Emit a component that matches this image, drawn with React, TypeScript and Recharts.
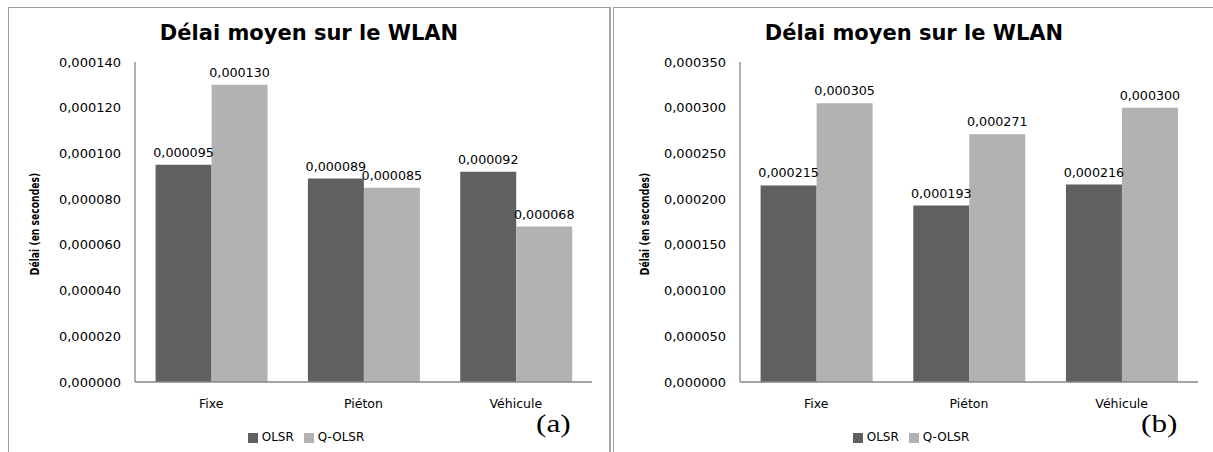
import React from 'react';
import { BarChart, Bar, XAxis, YAxis, Legend, LabelList } from 'recharts';

const categories = ['Fixe', 'Piéton', 'Véhicule'];
const olsrA = [0.000095, 0.000089, 0.000092];
const qolsrA = [0.00013, 0.000085, 0.000068];
const olsrB = [0.000215, 0.000193, 0.000216];
const qolsrB = [0.000305, 0.000271, 0.0003];
const yTicksA = [0, 0.00002, 0.00004, 0.00006, 0.00008, 0.0001, 0.00012, 0.00014];
const yTicksB = [0, 0.00005, 0.0001, 0.00015, 0.0002, 0.00025, 0.0003, 0.00035];
const seriesNames = ['OLSR', 'Q-OLSR'];
const title = 'Délai moyen sur le WLAN';
const yLabel = 'Délai (en secondes)';

const DARK = '#606060';
const LIGHT = '#b2b2b2';
const AXIS = '#868686';
const FONT = "'DejaVu Sans', sans-serif";

const fmt = (v: number) => Number(v).toFixed(6).replace('.', ',');

type PanelProps = {
  left: number;
  olsr: number[];
  qolsr: number[];
  ticks: number[];
  letter: string;
  labelX: number;
  rightMargin: number;
};

function Panel({ left, olsr, qolsr, ticks, letter, labelX, rightMargin }: PanelProps) {
  const rows = categories.map((c, i) => ({ cat: c, olsr: olsr[i], qolsr: qolsr[i] }));
  return (
    <div style={{ position: 'absolute', left, top: 7, width: 600, height: 445 }}>
      <div
        style={{
          position: 'absolute',
          left: 0,
          top: 15.5,
          width: 602,
          textAlign: 'center',
          fontFamily: FONT,
          fontWeight: 'bold',
          fontSize: 21,
          lineHeight: '21px',
          color: '#000',
          whiteSpace: 'nowrap',
        }}
      >
        {title}
      </div>
      <div
        style={{
          position: 'absolute',
          left: labelX,
          top: 217,
          transform: 'translate(-50%, -50%) rotate(-90deg) scaleX(0.8)',
          fontFamily: FONT,
          fontWeight: 'bold',
          fontSize: 11.5,
          lineHeight: '12px',
          whiteSpace: 'nowrap',
          color: '#000',
        }}
      >
        {yLabel}
      </div>
      <BarChart
        width={600}
        height={445}
        data={rows}
        margin={{ top: 55, right: rightMargin, left: 0, bottom: 0 }}
        barCategoryGap="13.5%"
        barGap={0}
      >
        <XAxis
          dataKey="cat"
          height={50}
          interval={0}
          tickLine={false}
          tickSize={6}
          tickMargin={11}
          axisLine={{ stroke: AXIS, strokeWidth: 1.3 }}
          tick={{ fontSize: 12.5, fill: '#000', fontFamily: FONT }}
        />
        <YAxis
          width={127}
          domain={[0, ticks[ticks.length - 1]]}
          ticks={ticks}
          interval={0}
          tickFormatter={fmt}
          tickLine={false}
          tickSize={6}
          tickMargin={8}
          axisLine={{ stroke: AXIS, strokeWidth: 1.3 }}
          tick={{ fontSize: 13, fill: '#000', fontFamily: FONT }}
        />
        <Legend
          iconType="square"
          iconSize={10}
          wrapperStyle={{
            top: 420,
            bottom: 'auto',
            left: 0,
            width: 606,
            height: 20,
            lineHeight: '20px',
            fontSize: 12,
            fontFamily: FONT,
          }}
          formatter={(value: string) => <span style={{ color: '#000' }}>{value}</span>}
        />
        <Bar dataKey="olsr" name={seriesNames[0]} fill={DARK} isAnimationActive={false}>
          <LabelList
            dataKey="olsr"
            position="top"
            offset={8}
            formatter={(v: any) => fmt(v)}
            style={{ fontSize: 12.7, fill: '#000', fontFamily: FONT }}
          />
        </Bar>
        <Bar dataKey="qolsr" name={seriesNames[1]} fill={LIGHT} isAnimationActive={false}>
          <LabelList
            dataKey="qolsr"
            position="top"
            offset={8}
            formatter={(v: any) => fmt(v)}
            style={{ fontSize: 12.7, fill: '#000', fontFamily: FONT }}
          />
        </Bar>
      </BarChart>
      <div
        style={{
          position: 'absolute',
          left: 528,
          top: 404,
          fontFamily: "'Liberation Serif', 'Times New Roman', serif",
          fontSize: 25,
          lineHeight: '25px',
          transform: 'scaleX(1.25)',
          transformOrigin: 'left top',
          color: '#000',
          whiteSpace: 'nowrap',
        }}
      >
        {letter}
      </div>
    </div>
  );
}

export default function App() {
  return (
    <div style={{ position: 'absolute', left: 0, top: 0, width: 1213, height: 452, background: '#fff', overflow: 'hidden' }}>
      <div
        style={{
          position: 'absolute',
          left: 8,
          top: 7,
          width: 603,
          height: 460,
          boxSizing: 'border-box',
          borderLeft: '1px solid #9c9c9c',
          borderTop: '1px solid #9c9c9c',
          borderRight: '2px solid #a4a4a4',
        }}
      />
      <div
        style={{
          position: 'absolute',
          left: 613,
          top: 7,
          width: 700,
          height: 460,
          boxSizing: 'border-box',
          borderLeft: '1px solid #9c9c9c',
          borderTop: '1px solid #9c9c9c',
        }}
      />
      <Panel left={8} olsr={olsrA} qolsr={qolsrA} ticks={yTicksA} letter="(a)" labelX={27} rightMargin={16} />
      <Panel left={613} olsr={olsrB} qolsr={qolsrB} ticks={yTicksB} letter="(b)" labelX={32} rightMargin={15} />
    </div>
  );
}
